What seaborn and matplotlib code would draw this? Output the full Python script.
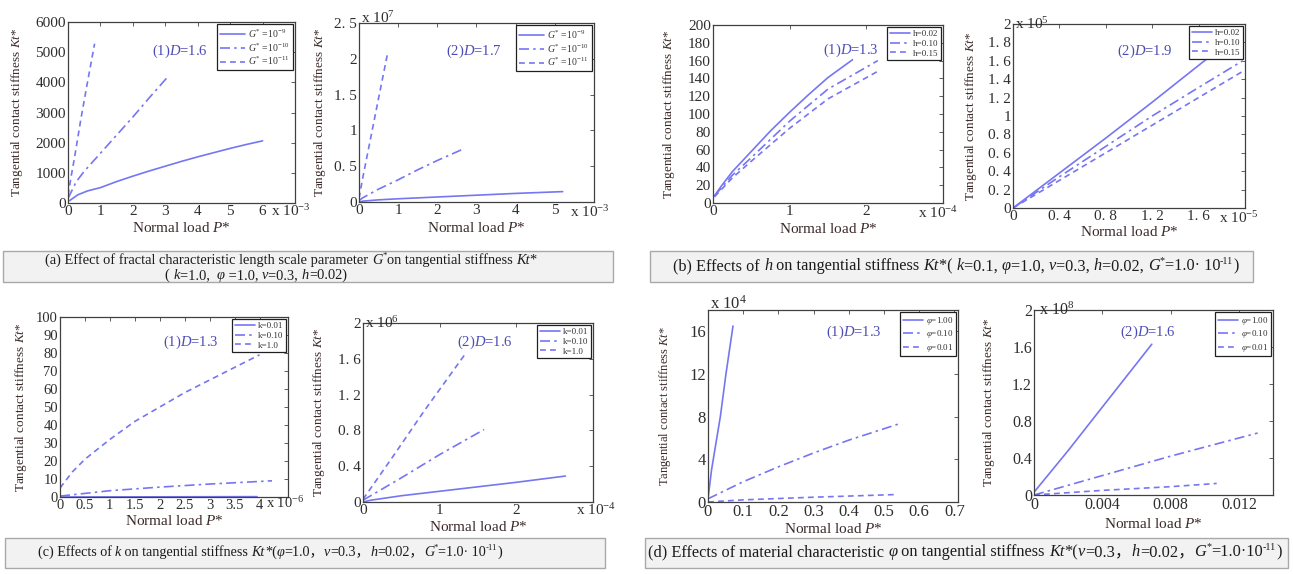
import matplotlib
matplotlib.use("Agg")
import matplotlib.pyplot as plt
import pandas as pd
import seaborn as sns
from matplotlib.patches import Rectangle

sns.set_style("white")
FAM = ["Liberation Serif", "Noto Sans CJK SC", "DejaVu Serif"]
plt.rcParams["font.family"] = FAM
plt.rcParams["mathtext.fontset"] = "custom"
plt.rcParams["mathtext.rm"] = "Liberation Serif"
plt.rcParams["mathtext.it"] = "Liberation Serif:italic"
plt.rcParams["mathtext.bf"] = "Liberation Serif:bold"

# ---------------- data ----------------
# (a1) D=1.6, x in 1e-3
a1_legend = ["$G^{*}$ =10$^{-9}$", "$G^{*}$ =10$^{-10}$", "$G^{*}$ =10$^{-11}$"]
a1_x_g9 = [0.05, 0.3, 0.6, 1.0, 1.5, 2.0, 2.5, 3.0, 3.5, 4.0, 4.5, 5.0, 5.5, 6.0]
a1_y_g9 = [80, 270, 400, 510, 710, 890, 1060, 1220, 1380, 1530, 1670, 1810, 1940, 2060]
a1_x_g10 = [0.0, 0.25, 0.5, 1.0, 1.5, 2.0, 2.5, 3.05]
a1_y_g10 = [150, 700, 1050, 1650, 2250, 2850, 3480, 4150]
a1_x_g11 = [0.0, 0.1, 0.2, 0.4, 0.6, 0.82]
a1_y_g11 = [250, 900, 1500, 2800, 4000, 5280]
# (a2) D=1.7, x in 1e-3, y in 1e7
a2_x_g9 = [0.0, 0.1, 0.5, 1.0, 2.0, 3.0, 4.0, 5.2]
a2_y_g9 = [0.0, 0.012, 0.03, 0.045, 0.07, 0.095, 0.12, 0.145]
a2_x_g10 = [0.0, 0.1, 0.5, 1.0, 1.5, 2.0, 2.62]
a2_y_g10 = [0.02, 0.06, 0.18, 0.31, 0.45, 0.58, 0.73]
a2_x_g11 = [0.0, 0.1, 0.3, 0.5, 0.72]
a2_y_g11 = [0.05, 0.35, 0.9, 1.45, 2.05]
# (b1) D=1.3, x in 1e-4
b_legend = ["h=0.02", "h=0.10", "h=0.15"]
b1_x_h02 = [0.02, 0.1, 0.25, 0.5, 0.75, 1.0, 1.25, 1.5, 1.82]
b1_y_h02 = [8, 18, 35, 58, 81, 102, 122, 141, 161]
b1_x_h10 = [0.02, 0.25, 0.5, 1.0, 1.5, 2.15]
b1_y_h10 = [8, 31, 51, 92, 128, 160]
b1_x_h15 = [0.02, 0.25, 0.5, 1.0, 1.5, 2.15]
b1_y_h15 = [7, 28, 47, 84, 117, 148]
# (b2) D=1.9, x in 1e-5, y in 1e5
b2_x_h02 = [0.0, 0.4, 0.8, 1.2, 1.7]
b2_y_h02 = [0.0, 0.38, 0.76, 1.15, 1.65]
b2_x_h10 = [0.0, 0.4, 0.8, 1.2, 1.6, 1.98]
b2_y_h10 = [0.0, 0.34, 0.67, 1.0, 1.31, 1.6]
b2_x_h15 = [0.0, 0.4, 0.8, 1.2, 1.6, 2.0]
b2_y_h15 = [0.0, 0.3, 0.6, 0.9, 1.2, 1.5]
# (c1) D=1.3, x in 1e-6
c_legend = ["k=0.01", "k=0.10", "k=1.0"]
c1_x_k001 = [0.0, 3.95]
c1_y_k001 = [0.0, 0.2]
c1_x_k010 = [0.0, 1.0, 2.0, 3.0, 4.25]
c1_y_k010 = [0.5, 3.5, 5.5, 7.2, 9.0]
c1_x_k1 = [0.0, 0.25, 0.5, 1.0, 1.5, 2.0, 2.5, 3.0, 3.5, 4.0]
c1_y_k1 = [5, 14, 21, 32, 42, 50, 58, 65, 72, 79]
# (c2) D=1.6, x in 1e-4, y in 1e6
c2_x_k001 = [0.0, 0.1, 0.5, 1.0, 1.5, 2.0, 2.64]
c2_y_k001 = [0.0, 0.02, 0.07, 0.12, 0.17, 0.22, 0.29]
c2_x_k010 = [0.0, 0.5, 1.0, 1.58]
c2_y_k010 = [0.02, 0.27, 0.53, 0.81]
c2_x_k1 = [0.0, 0.4, 0.8, 1.33]
c2_y_k1 = [0.03, 0.52, 1.02, 1.65]
# (d1) D=1.3, y in 1e4
d_legend = ["$\\varphi$=1.00", "$\\varphi$=0.10", "$\\varphi$=0.01"]
d1_x_p100 = [0.0, 0.01, 0.035, 0.051, 0.071]
d1_y_p100 = [0.3, 3.0, 8.0, 12.0, 16.5]
d1_x_p010 = [0.0, 0.05, 0.1, 0.2, 0.3, 0.4, 0.54]
d1_y_p010 = [0.3, 1.1, 1.9, 3.3, 4.6, 5.8, 7.3]
d1_x_p001 = [0.0, 0.1, 0.3, 0.535]
d1_y_p001 = [0.0, 0.2, 0.45, 0.7]
# (d2) D=1.6, y in 1e8
d2_x_p100 = [0.0, 0.002, 0.004, 0.0069]
d2_y_p100 = [0.03, 0.48, 0.95, 1.63]
d2_x_p010 = [0.0, 0.004, 0.008, 0.0131]
d2_y_p010 = [0.0, 0.21, 0.42, 0.67]
d2_x_p001 = [0.0, 0.004, 0.008, 0.0107]
d2_y_p001 = [0.0, 0.05, 0.09, 0.125]

# tick labels
a1_xt = [0, 1, 2, 3, 4, 5, 6]
a1_yt = [0, 1000, 2000, 3000, 4000, 5000, 6000]
a2_xt = [0, 1, 2, 3, 4, 5]
a2_yt = [0, 0.5, 1, 1.5, 2, 2.5]
a2_ytl = ["0", "0. 5", "1", "1. 5", "2", "2. 5"]
b1_xt = [0, 1, 2]
b1_yt = [0, 20, 40, 60, 80, 100, 120, 140, 160, 180, 200]
b2_xt = [0, 0.4, 0.8, 1.2, 1.6]
b2_xtl = ["0", "0. 4", "0. 8", "1. 2", "1. 6"]
b2_yt = [0, 0.2, 0.4, 0.6, 0.8, 1.0, 1.2, 1.4, 1.6, 1.8, 2.0]
b2_ytl = ["0", "0. 2", "0. 4", "0. 6", "0. 8", "1", "1. 2", "1. 4", "1. 6", "1. 8", "2"]
c1_xt = [0, 0.5, 1, 1.5, 2, 2.5, 3, 3.5, 4]
c1_xtl = ["0", "0.5", "1", "1.5", "2", "2.5", "3", "3.5", "4"]
c1_yt = [0, 10, 20, 30, 40, 50, 60, 70, 80, 90, 100]
c2_xt = [0, 1, 2]
c2_yt = [0, 0.4, 0.8, 1.2, 1.6, 2.0]
c2_ytl = ["0", "0. 4", "0. 8", "1. 2", "1. 6", "2"]
d1_xt = [0, 0.1, 0.2, 0.3, 0.4, 0.5, 0.6, 0.7]
d1_xtl = ["0", "0.1", "0.2", "0.3", "0.4", "0.5", "0.6", "0.7"]
d1_yt = [0, 4, 8, 12, 16]
d2_xt = [0, 0.004, 0.008, 0.012]
d2_xtl = ["0", "0.004", "0.008", "0.012"]
d2_yt = [0, 0.4, 0.8, 1.2, 1.6, 2.0]
d2_ytl = ["0", "0.4", "0.8", "1.2", "1.6", "2"]

# ---------------- style ----------------
W, H, DPI = 1293, 574, 100
LINE = "#7676f2"
NOTE = "#4c4cb4"
LABEL = "#3b2a2a"
TICK = "#2e2e2e"
STYLES = ["", (6, 2.5, 1.5, 2.5), (3.5, 2.5)]

fig = plt.figure(figsize=(W / DPI, H / DPI), dpi=DPI)
fig.patch.set_facecolor("white")


def rect(l, t, r, b):
    return [l / W, 1 - b / H, (r - l) / W, (b - t) / H]


def panel(box, series, labels, xlim, xt, xtl, ylim, yt, ytl, note, note_xy,
          xoff=None, yoff=None, ylab_x=-0.18, xlab_y=-0.13, tfs=11, lfs=9.5,
          xfs=11, legfs=6.5, handlelen=2.2):
    ax = fig.add_axes(rect(*box))
    frames = []
    for (x, y), lab in zip(series, labels):
        frames.append(pd.DataFrame({"x": x, "y": y, "s": lab}))
    df = pd.concat(frames, ignore_index=True)
    sns.lineplot(data=df, x="x", y="y", hue="s", style="s", hue_order=labels,
                 style_order=labels, palette={l: LINE for l in labels},
                 dashes=dict(zip(labels, STYLES)), estimator=None, sort=False,
                 linewidth=1.2, ax=ax, legend=False)
    ax.set_xlim(*xlim)
    ax.set_ylim(*ylim)
    ax.set_xticks(xt, xtl if xtl is not None else [str(v) for v in xt])
    ax.set_yticks(yt, ytl if ytl is not None else [str(v) for v in yt])
    ax.tick_params(direction="in", top=True, right=True, length=3, width=0.6,
                   labelsize=tfs, labelcolor=TICK, color="#444444", pad=1.5)
    for s in ax.spines.values():
        s.set_color("#404040")
        s.set_linewidth(0.9)
    ax.set_ylabel("Tangential contact stiffness $Kt$*", fontsize=lfs, color=LABEL)
    ax.set_xlabel("Normal load $P$*", fontsize=xfs, color=LABEL)
    ax.yaxis.label.set_va("center")
    ax.xaxis.label.set_va("center")
    ax.yaxis.set_label_coords(ylab_x, 0.5)
    ax.xaxis.set_label_coords(0.5, xlab_y)
    leg = ax.legend(ax.lines[:3], labels, loc="upper right", fontsize=legfs,
                    frameon=True, fancybox=False, framealpha=1,
                    edgecolor="#202020", borderaxespad=0.25, labelspacing=0.15,
                    handlelength=handlelen, handletextpad=0.3, borderpad=0.3)
    leg.get_frame().set_linewidth(0.9)
    for t in leg.get_texts():
        t.set_color("#333333")
    ax.text(note_xy[0], note_xy[1], note, transform=ax.transAxes, color=NOTE,
            fontsize=10.5, ha="left", va="center")
    if xoff is not None:
        ax.text(xoff[0], xoff[1], "x $10^{%s}$" % xoff[2], transform=ax.transAxes,
                fontsize=tfs, color=TICK, ha="left", va="center")
    if yoff is not None:
        ax.text(yoff[0], yoff[1], "x $10^{%s}$" % yoff[2], transform=ax.transAxes,
                fontsize=tfs, color=TICK, ha="left", va="center")
    return ax


panel((68, 22, 295, 203),
      [(a1_x_g9, a1_y_g9), (a1_x_g10, a1_y_g10), (a1_x_g11, a1_y_g11)], a1_legend,
      (0, 7), a1_xt, None, (0, 6000), a1_yt, None, "(1)$D$=1.6", (0.37, 0.84),
      xoff=(0.895, -0.045, "-3"), ylab_x=-0.225, xlab_y=-0.14, tfs=11,
      legfs=7, handlelen=2.6)
panel((359, 23, 594, 202),
      [(a2_x_g9, a2_y_g9), (a2_x_g10, a2_y_g10), (a2_x_g11, a2_y_g11)], a1_legend,
      (0, 6), a2_xt, None, (0, 2.5), a2_yt, a2_ytl, "(2)$D$=1.7", (0.37, 0.84),
      xoff=(0.9, -0.055, "-3"), yoff=(0.01, 1.03, "7"), ylab_x=-0.166,
      xlab_y=-0.145, tfs=11, legfs=7, handlelen=2.6)
panel((713, 25, 943, 203),
      [(b1_x_h02, b1_y_h02), (b1_x_h10, b1_y_h10), (b1_x_h15, b1_y_h15)], b_legend,
      (0, 3), b1_xt, None, (0, 200), b1_yt, None, "(1)$D$=1.3", (0.48, 0.86),
      xoff=(0.89, -0.056, "-4"), ylab_x=-0.19, xlab_y=-0.145, tfs=11)
panel((1013, 24, 1245, 208),
      [(b2_x_h02, b2_y_h02), (b2_x_h10, b2_y_h10), (b2_x_h15, b2_y_h15)], b_legend,
      (0, 2), b2_xt, b2_xtl, (0, 2), b2_yt, b2_ytl, "(2)$D$=1.9", (0.45, 0.85),
      xoff=(0.89, -0.054, "-5"), yoff=(0.01, 1.0, "5"), ylab_x=-0.18,
      xlab_y=-0.13, tfs=11)
panel((60, 317, 288, 497),
      [(c1_x_k001, c1_y_k001), (c1_x_k010, c1_y_k010), (c1_x_k1, c1_y_k1)], c_legend,
      (0, 4.57), c1_xt, c1_xtl, (0, 100), c1_yt, None, "(1)$D$=1.3", (0.45, 0.86),
      xoff=(0.905, -0.035, "-6"), ylab_x=-0.17, xlab_y=-0.135, tfs=10.5, lfs=9.5)
panel((363, 323, 593, 502),
      [(c2_x_k001, c2_y_k001), (c2_x_k010, c2_y_k010), (c2_x_k1, c2_y_k1)], c_legend,
      (0, 3), c2_xt, None, (0, 2), c2_yt, c2_ytl, "(2)$D$=1.6", (0.41, 0.89),
      xoff=(0.925, -0.045, "-4"), yoff=(0.01, 1.0, "6"), ylab_x=-0.19,
      xlab_y=-0.14, tfs=11)
panel((708, 310, 958, 502),
      [(d1_x_p100, d1_y_p100), (d1_x_p010, d1_y_p010), (d1_x_p001, d1_y_p001)], d_legend,
      (0, 0.71), d1_xt, d1_xtl, (0, 18), d1_yt, None, "(1)$D$=1.3", (0.47, 0.885),
      yoff=(0.01, 1.03, "4"), ylab_x=-0.172, xlab_y=-0.14, tfs=12, lfs=9)
panel((1034, 310, 1273, 495),
      [(d2_x_p100, d2_y_p100), (d2_x_p010, d2_y_p010), (d2_x_p001, d2_y_p001)], d_legend,
      (0, 0.014), d2_xt, d2_xtl, (0, 2), d2_yt, d2_ytl, "(2)$D$=1.6", (0.36, 0.88),
      yoff=(0.02, 1.0, "8"), ylab_x=-0.19, xlab_y=-0.155, tfs=11.5, lfs=9.5)

# ---------------- captions ----------------
def box(x0, y0, x1, y1):
    fig.add_artist(Rectangle((x0 / W, 1 - y1 / H), (x1 - x0) / W, (y1 - y0) / H,
                             transform=fig.transFigure, facecolor="#f2f2f2",
                             edgecolor="#a9a9a9", linewidth=1.0, zorder=0))


renderer = fig.canvas.get_renderer()


def pw(t, fs, style):
    a = fig.text(0, 0, "|" + t + "|", fontsize=fs, style=style, family=FAM)
    b = fig.text(0, 0, "||", fontsize=fs, style=style, family=FAM)
    w = a.get_window_extent(renderer).width - b.get_window_extent(renderer).width
    a.remove()
    b.remove()
    return w


def widths(pieces, fs):
    return [pw(t, fs * (0.62 if "s" in k else 1.0), "italic" if "i" in k else "normal")
            for t, k in pieces]


def caption(cx, cy, pieces, target_w=None, fs=None):
    if fs is None:
        fs = 10.0 * target_w / sum(widths(pieces, 10.0))
    ws = widths(pieces, fs)
    x = cx - sum(ws) / 2.0
    base = cy + 0.33 * fs * DPI / 72.0
    for (t, k), w in zip(pieces, ws):
        sup = "s" in k
        f = fs * (0.62 if sup else 1.0)
        yb = base - (0.42 * fs * DPI / 72.0 if sup else 0)
        fig.text(x / W, 1 - yb / H, t, fontsize=f,
                 style="italic" if "i" in k else "normal", family=FAM,
                 color="#1c1c1c", ha="left", va="baseline")
        x += w
    return fs


box(3, 251, 613, 282)
box(650, 251, 1253, 282)
box(5, 538, 605, 568)
box(645, 538, 1288, 568)

cap_a1 = [("(a) Effect of fractal characteristic length scale parameter ", "n"), ("G", "i"),
          ("*", "s"), ("on tangential stiffness ", "n"), ("Kt", "i"), ("*", "n")]
cap_a2 = [("( ", "n"), ("k", "i"), ("=1.0,  ", "n"), ("φ", "i"), (" =1.0, ", "n"),
          ("v", "i"), ("=0.3, ", "n"), ("h", "i"), ("=0.02)", "n")]
cap_b = [("(b) Effects of ", "n"), ("h", "i"), (" on tangential stiffness ", "n"), ("Kt", "i"),
         ("*( ", "n"), ("k", "i"), ("=0.1, ", "n"), ("φ", "i"), ("=1.0, ", "n"), ("v", "i"),
         ("=0.3, ", "n"), ("h", "i"), ("=0.02, ", "n"), ("G", "i"), ("*", "s"),
         ("=1.0· 10", "n"), ("-11", "s"), (")", "n")]
cap_c = [("(c) Effects of ", "n"), ("k", "i"), (" on tangential stiffness ", "n"), ("Kt", "i"),
         ("*(", "n"), ("φ", "i"), ("=1.0，", "n"), ("v", "i"), ("=0.3，", "n"), ("h", "i"),
         ("=0.02，", "n"), ("G", "i"), ("*", "s"), ("=1.0· 10", "n"), ("-11", "s"), (")", "n")]
cap_d = [("(d) Effects of material characteristic ", "n"), ("φ", "i"),
         (" on tangential stiffness ", "n"), ("Kt", "i"), ("*(", "n"), ("v", "i"),
         ("=0.3，", "n"), ("h", "i"), ("=0.02，", "n"), ("G", "i"), ("*", "s"),
         ("=1.0·10", "n"), ("-11", "s"), (")", "n")]

fsa = caption(291, 259, cap_a1, target_w=492)
caption(256, 274, cap_a2, fs=fsa)
caption(956, 265, cap_b, target_w=563)
caption(270, 551, cap_c, target_w=465)
caption(965, 551, cap_d, target_w=635)

fig.savefig("out.png", dpi=DPI, facecolor="white")
